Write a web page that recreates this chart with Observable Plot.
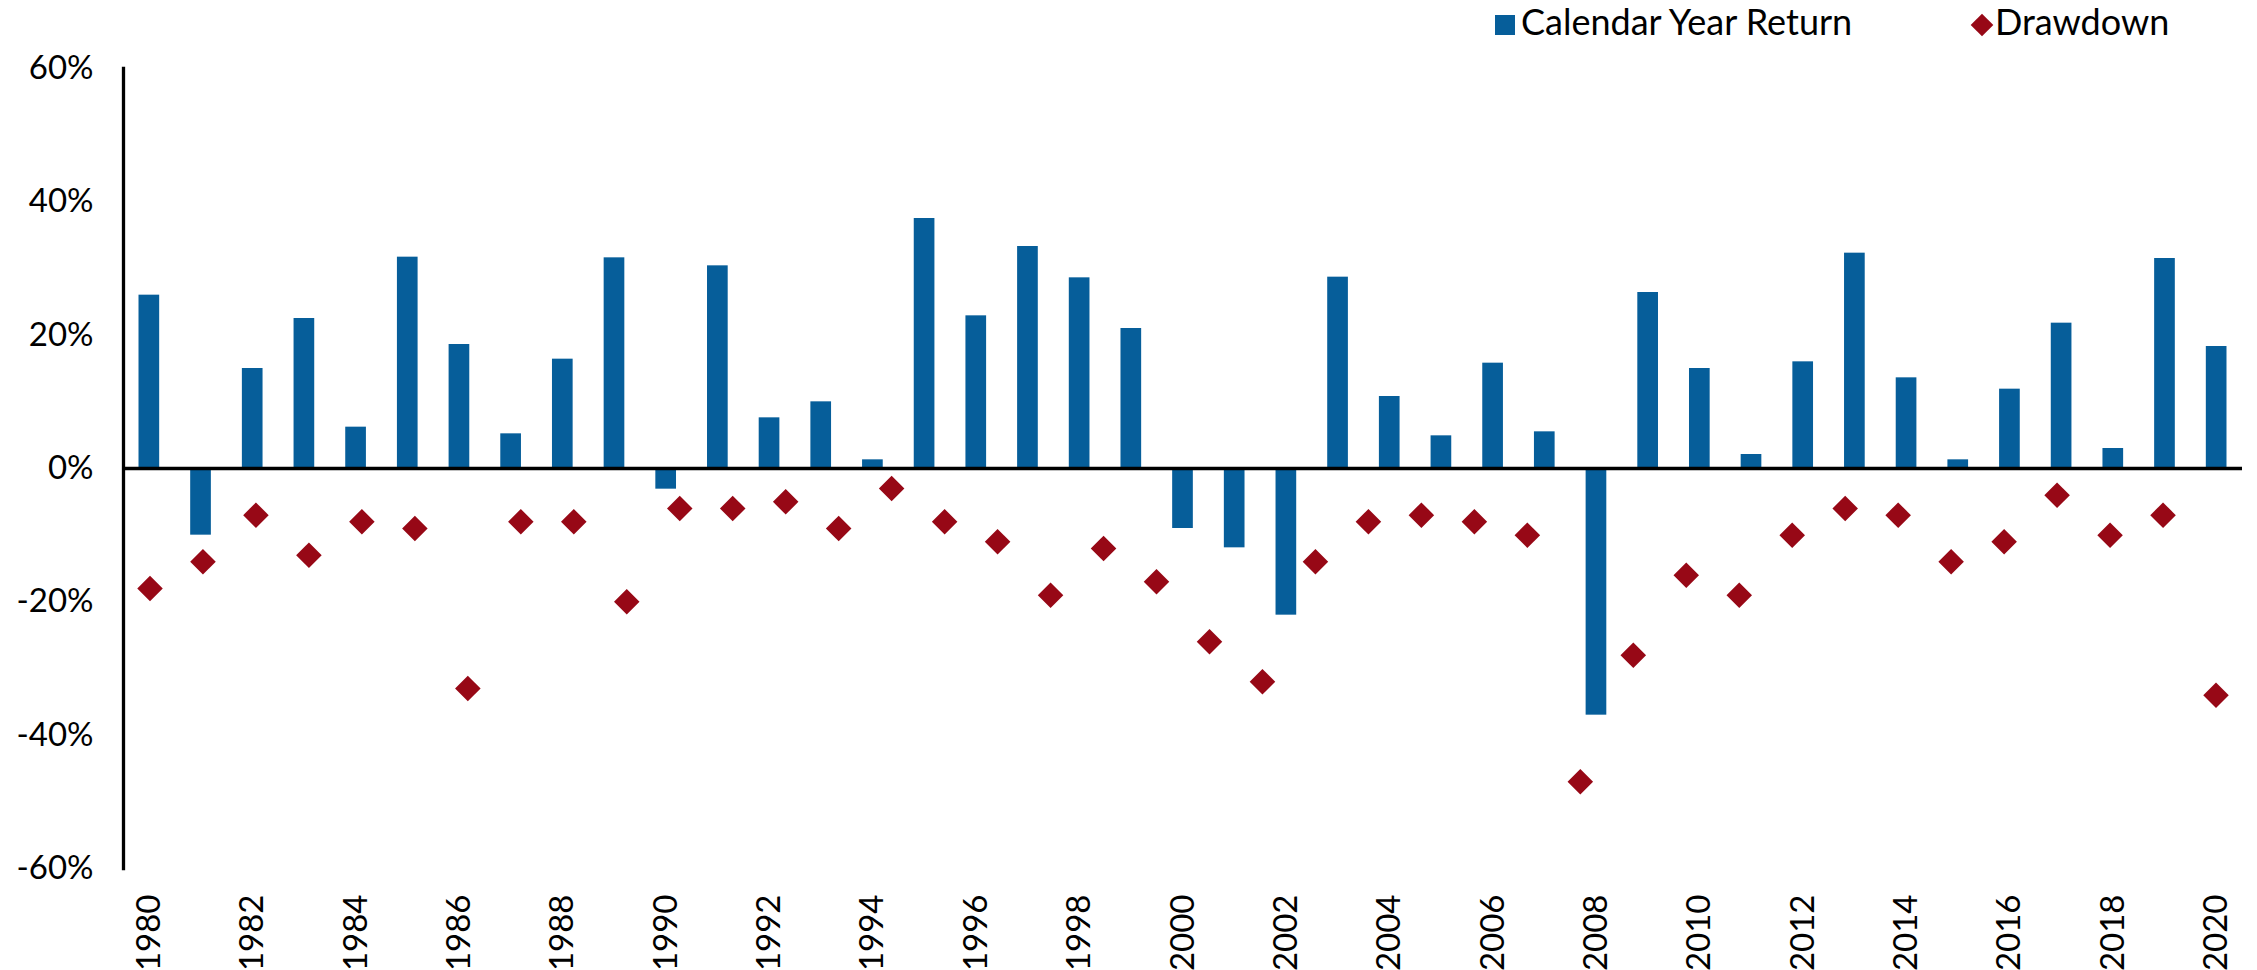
<!DOCTYPE html>
<html>
<head>
<meta charset="utf-8">
<script src="https://cdn.jsdelivr.net/npm/d3@7"></script>
<script src="https://cdn.jsdelivr.net/npm/@observablehq/plot@0.6"></script>
<style>
  html, body { margin: 0; padding: 0; background: #fff; overflow: hidden; }
  #legend { position: relative; width: 2257px; height: 44px; font-family: Lato, sans-serif; font-size: 36px; color: #000; }
  #legend .txt { position: absolute; top: 0px; line-height: 1.2; white-space: nowrap; }
  #legend .sq { position: absolute; left: 1495px; top: 15px; width: 20px; height: 20px; }
  #legend .dm { position: absolute; left: 1974px; top: 17px; width: 16px; height: 16px; transform: rotate(45deg); }
</style>
</head>
<body>
<div id="legend"></div>
<div id="chart"></div>
<script>
// ---- data ----
const years = [1980,1981,1982,1983,1984,1985,1986,1987,1988,1989,
               1990,1991,1992,1993,1994,1995,1996,1997,1998,1999,
               2000,2001,2002,2003,2004,2005,2006,2007,2008,2009,
               2010,2011,2012,2013,2014,2015,2016,2017,2018,2019,2020];
const calendarYearReturn = [26.0,-10.0,15.0,22.5,6.2,31.7,18.6,5.2,16.4,31.6,
                            -3.1,30.4,7.6,10.0,1.3,37.5,22.9,33.3,28.6,21.0,
                            -9.0,-11.9,-22.0,28.7,10.8,4.9,15.8,5.5,-37.0,26.4,
                            15.0,2.1,16.0,32.3,13.6,1.3,11.9,21.8,3.0,31.5,18.3];
// drawdown series: 40 points spread evenly across the same width (secondary category axis)
const drawdown = [-18,-14,-7,-13,-8,-9,-33,-8,-8,-20,
                  -6,-6,-5,-9,-3,-8,-11,-19,-12,-17,
                  -26,-32,-14,-8,-7,-8,-10,-47,-28,-16,
                  -19,-10,-6,-7,-14,-11,-4,-10,-7,-34];
const yTicks = [-60,-40,-20,0,20,40,60];
const xTicks = [1980,1982,1984,1986,1988,1990,1992,1994,1996,1998,2000,
                2002,2004,2006,2008,2010,2012,2014,2016,2018,2020];
const seriesNames = ["Calendar Year Return", "Drawdown"];
const barColor = "#065E9A";
const ddColor = "#970816";

// ---- legend ----
const legend = document.getElementById("legend");
legend.innerHTML =
  `<div class="sq" style="background:${barColor}"></div>` +
  `<div class="txt" style="left:1521px">${seriesNames[0]}</div>` +
  `<div class="dm" style="background:${ddColor}"></div>` +
  `<div class="txt" style="left:1995px">${seriesNames[1]}</div>`;

// ---- chart ----
const returns = years.map((year, i) => ({year, value: calendarYearReturn[i]}));
const x0 = years[0] - 0.5, x1 = years[years.length - 1] + 0.5;
const slotW = (x1 - x0) / drawdown.length;
const dd = drawdown.map((value, i) => ({slot: x0 + (i + 0.5) * slotW, value}));

const chart = Plot.plot({
  width: 2257,
  height: 926,
  marginTop: 24,
  marginBottom: 102,
  marginLeft: 123,
  marginRight: 15,
  style: {fontFamily: "Lato, sans-serif", fontSize: "33px", color: "#000", background: "#fff", overflow: "visible"},
  x: {type: "linear", domain: [x0, x1]},
  y: {domain: [-60, 60]},
  marks: [
    Plot.rect(returns, {x1: d => d.year - 0.2, x2: d => d.year + 0.2, y1: 0, y2: "value", fill: barColor}),
    Plot.ruleY([0], {stroke: "#000", strokeWidth: 3.3}),
    Plot.frame({anchor: "left", stroke: "#000", strokeWidth: 3.3}),
    Plot.dot(dd, {x: "slot", y: "value", symbol: "diamond2", r: 11.5, fill: ddColor, stroke: "none"}),
    Plot.axisY({ticks: yTicks, tickFormat: d => `${d}%`, tickSize: 0, tickPadding: 30, fontSize: 33, label: null}),
    Plot.axisX({ticks: xTicks, tickFormat: d => String(d), tickSize: 0, tickPadding: 26, tickRotate: -90, fontSize: 33, label: null})
  ]
});
document.getElementById("chart").appendChild(chart);
</script>
</body>
</html>
